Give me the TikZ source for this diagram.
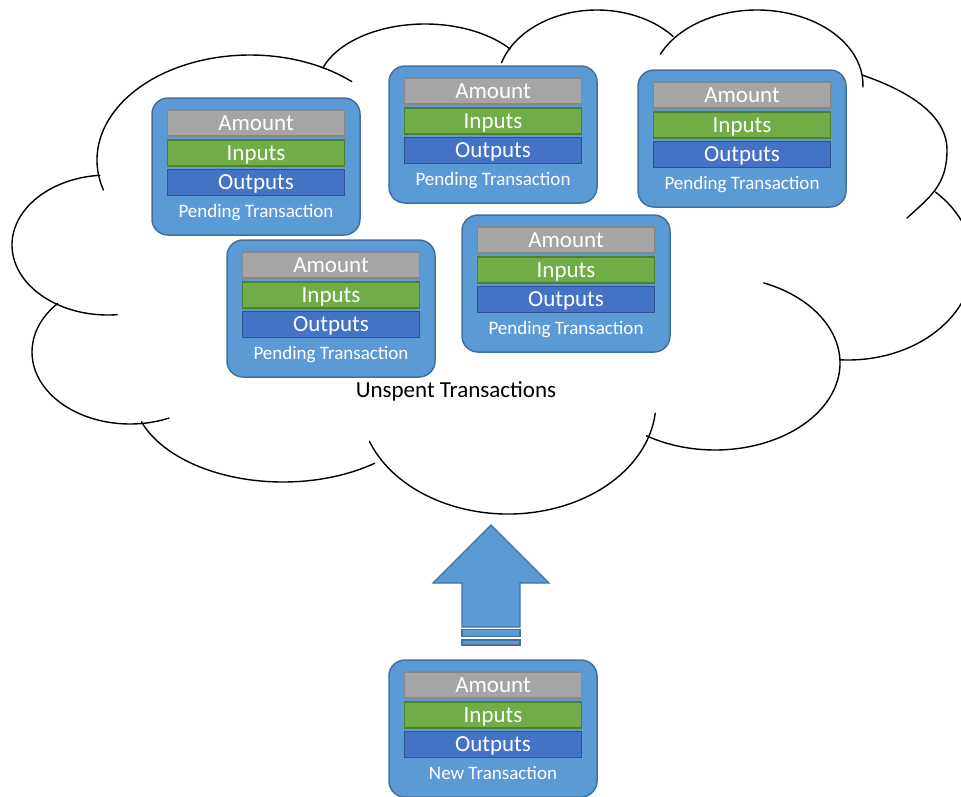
\documentclass[tikz,border=0pt]{standalone}
\usepackage{fontspec}
\setmainfont{Carlito}
\definecolor{boxblue}{HTML}{5B9BD5}
\definecolor{boxedge}{HTML}{41719C}
\definecolor{amtgray}{HTML}{A5A5A5}
\definecolor{amtedge}{HTML}{878787}
\definecolor{ingreen}{HTML}{70AD47}
\definecolor{inedge}{HTML}{507E32}
\definecolor{outblue}{HTML}{4472C4}
\definecolor{outedge}{HTML}{2F528F}
\tikzset{
  txouter/.style={draw=boxedge, fill=boxblue, line width=1.5pt, rounded corners=16pt,
    minimum width=208pt, minimum height=137pt, inner sep=0pt},
  bar/.style={minimum width=177pt, minimum height=26pt, inner sep=0pt, line width=1.6pt,
    text=white, font=\fontsize{23}{24}\selectfont, text height=14.5pt, text depth=0pt},
  amountbar/.style={bar, draw=amtedge, fill=amtgray},
  inputbar/.style={bar, draw=inedge, fill=ingreen},
  outputbar/.style={bar, draw=outedge, fill=outblue},
  txlabel/.style={text=white, font=\fontsize{19}{19}\selectfont, inner sep=0pt,
    text height=12pt, text depth=0pt},
  cloudline/.style={draw=black, line width=1.4pt, line cap=round},
  arrowshape/.style={draw=boxedge, fill=boxblue, line width=1.2pt, line join=miter},
}
\newcommand\txbox[4]{%
  \node[txouter] (#1) at ({#2+104},{#3+68.5}) {};
  \node[amountbar] (#1-amt) at ({#2+104},{#3+25}) {Amount};
  \node[inputbar] (#1-in) at ({#2+104},{#3+55}) {Inputs};
  \node[outputbar] (#1-out) at ({#2+104},{#3+84.5}) {Outputs};
  \node[txlabel] (#1-lbl) at ({#2+104},{#3+113}) {#4};
}
% elliptic cloud bump: centre x, centre y, x radius, y radius, start, end
\newcommand\bump[6]{%
  \draw[cloudline] (#1,#2) ++(#5:#3 and #4)
    arc[start angle=#5, end angle=#6, x radius=#3, y radius=#4];
}
\begin{document}
\begin{tikzpicture}[x=1pt, y=-1pt]
\useasboundingbox (0,0) rectangle (961,796);
\clip (0,0) rectangle (961,796);
% cloud
\bump{250}{160}{153}{105}{163.4}{311.7}
\bump{425}{89}{108}{65}{198.9}{322}
\bump{597}{85}{100}{75}{197.3}{319.5}
\bump{757}{85}{106}{75}{204.3}{361.5}
\draw[cloudline] (862,75) .. controls (897,87) and (947,110) .. (947,150)
  .. controls (947,185) and (930,197) .. (907,218);
\bump{848}{262}{125}{98}{-45.6}{93.7}
\bump{715}{363}{125}{87}{-67}{123.3}
\bump{508}{402}{148}{112}{159.5}{5.8}
\bump{283}{392}{150}{90}{160.7}{52.3}
\bump{130}{352}{98}{72}{222.4}{66.6}
\bump{108}{245}{96}{70}{265.1}{84.5}
\node[font=\fontsize{23}{23}\selectfont, inner sep=0pt] (cloudlbl) at (456,391) {Unspent Transactions};
% pending transactions
\txbox{p1}{152}{98}{Pending Transaction}
\txbox{p2}{389}{66}{Pending Transaction}
\txbox{p3}{638}{70}{Pending Transaction}
\txbox{p4}{227}{240}{Pending Transaction}
\txbox{p5}{462}{215}{Pending Transaction}
% new transaction
\txbox{nt}{389}{660}{New Transaction}
% block arrow
\draw[arrowshape] (491,525) -- (549,583) -- (520,583) -- (520,627) -- (462,627) -- (462,583) -- (433,583) -- cycle;
\draw[arrowshape] (462,629.5) rectangle (520,636.5);
\draw[arrowshape] (462,640) rectangle (520,645);
\end{tikzpicture}
\end{document}
